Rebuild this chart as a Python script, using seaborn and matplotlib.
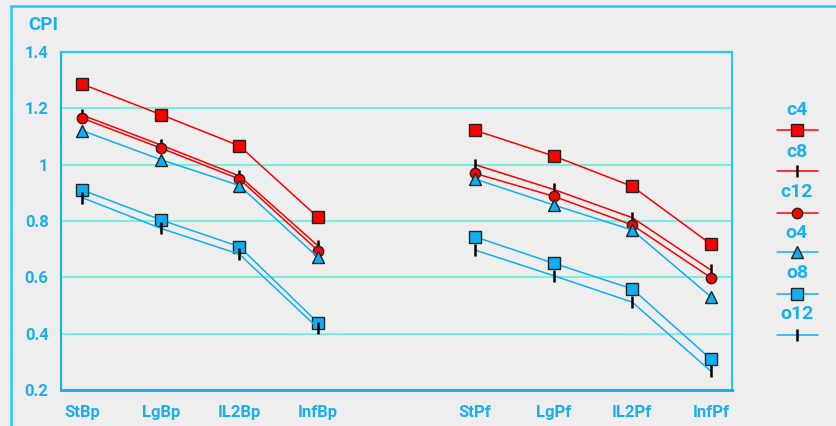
import pandas as pd
import seaborn as sns
import matplotlib.pyplot as plt
from matplotlib.lines import Line2D
from matplotlib.patches import Rectangle
from matplotlib.ticker import AutoMinorLocator

# categories along x (one empty slot between the two groups)
categories = ["StBp", "LgBp", "IL2Bp", "InfBp", "", "StPf", "LgPf", "IL2Pf", "InfPf"]
bp_cats = ["StBp", "LgBp", "IL2Bp", "InfBp"]
pf_cats = ["StPf", "LgPf", "IL2Pf", "InfPf"]

# CPI values: 4 Bp values then 4 Pf values
c4 = [1.286, 1.178, 1.067, 0.813, 1.122, 1.031, 0.923, 0.718]
c8 = [1.176, 1.070, 0.960, 0.712, 1.000, 0.912, 0.812, 0.626]
c12 = [1.165, 1.059, 0.949, 0.695, 0.969, 0.888, 0.786, 0.599]
o4 = [1.121, 1.018, 0.926, 0.671, 0.949, 0.857, 0.768, 0.531]
o8 = [0.910, 0.804, 0.709, 0.439, 0.744, 0.650, 0.559, 0.310]
o12 = [0.883, 0.774, 0.682, 0.420, 0.697, 0.606, 0.512, 0.267]

series_names = ["c4", "c8", "c12", "o4", "o8", "o12"]
series_vals = [c4, c8, c12, o4, o8, o12]

RED = "#ff0000"
BLUE = "#0cb0f2"
TXT = "#1ab0f0"
CYAN = "#20c8ff"
GRID = "#5ef0dc"
BG = "#eeeeee"

styles = {
    "c4": dict(color=RED, marker="s", ms=8.5, mec="#222222", mew=1.0),
    "c8": dict(color=RED, marker="|", ms=8, mec="black", mew=1.8),
    "c12": dict(color=RED, marker="o", ms=7.5, mec="#222222", mew=1.0),
    "o4": dict(color=BLUE, marker="^", ms=8, mec="#222222", mew=1.0),
    "o8": dict(color=BLUE, marker="s", ms=8.5, mec="#222222", mew=1.0),
    "o12": dict(color=BLUE, marker="|", ms=8, mec="black", mew=1.8),
}

# long-form table
rows = []
for name, vals in zip(series_names, series_vals):
    for cat, v in zip(bp_cats + pf_cats, vals):
        rows.append({"series": name, "cat": cat, "pos": categories.index(cat),
                     "group": "Bp" if cat in bp_cats else "Pf", "cpi": v})
df = pd.DataFrame(rows)

sns.set_style("white")
plt.rcParams["font.family"] = ["Roboto", "DejaVu Sans"]
plt.rcParams["font.weight"] = "bold"

fig = plt.figure(figsize=(8.36, 4.26), dpi=100, facecolor=BG)
ax = fig.add_axes([61 / 836, 1 - 390 / 426, 671 / 836, 338 / 426])
ax.set_facecolor(BG)

for name in series_names:
    st = styles[name]
    sns.lineplot(data=df[df["series"] == name], x="pos", y="cpi", units="group",
                 estimator=None, color=st["color"], lw=1.1, marker=st["marker"],
                 markersize=st["ms"], markeredgecolor=st["mec"],
                 markerfacecolor=st["color"], markeredgewidth=st["mew"],
                 legend=False, ax=ax, zorder=3)

ax.set_xlim(-0.27, 8.27)
ax.set_ylim(0.2, 1.4)
ax.set_xticks(range(len(categories)))
ax.set_xticklabels(categories)
ax.set_yticks([0.2, 0.4, 0.6, 0.8, 1.0, 1.2, 1.4])
ax.set_yticklabels(["0.2", "0.4", "0.6", "0.8", "1", "1.2", "1.4"])
ax.yaxis.set_minor_locator(AutoMinorLocator(2))
ax.set_xlabel("")
ax.set_ylabel("")

for y in [0.4, 0.6, 0.8, 1.0, 1.2]:
    ax.axhline(y, color=GRID, lw=1.2, zorder=1)

ax.tick_params(axis="y", which="major", direction="in", length=9, width=1.5,
               color="black", labelcolor=TXT, labelsize=12, pad=9)
ax.tick_params(axis="y", which="minor", direction="out", length=5, width=1,
               color=TXT)
ax.tick_params(axis="x", which="major", direction="out", length=7, width=1.5,
               color=TXT, labelcolor=TXT, labelsize=12, pad=4)
for lab in ax.get_xticklabels() + ax.get_yticklabels():
    lab.set_fontweight("bold")

ax.spines["left"].set_color(TXT)
ax.spines["left"].set_linewidth(1.5)
ax.spines["bottom"].set_color(TXT)
ax.spines["bottom"].set_linewidth(2.2)
ax.spines["top"].set_color(CYAN)
ax.spines["top"].set_linewidth(1.5)
ax.spines["right"].set_color(CYAN)
ax.spines["right"].set_linewidth(1.5)

# outer frame
fig.add_artist(Rectangle((11 / 836, -0.1), 1.2, 1.1 - 6 / 426, fill=False,
                         edgecolor=CYAN, lw=1.8, transform=fig.transFigure))

fig.text(28 / 836, 1 - 25 / 426, "CPI", color=TXT, fontsize=13.5,
         fontweight="bold", va="center", ha="left")

# legend: label above a short line sample
label_y = [110, 151.5, 192, 233, 273, 314]
line_y = [130.5, 171, 212.5, 252.5, 293.5, 334.5]
for name, ty, ly in zip(series_names, label_y, line_y):
    st = styles[name]
    fig.text(797 / 836, 1 - ty / 426, name, color=TXT, fontsize=14,
             fontweight="bold", ha="center", va="center")
    fig.add_artist(Line2D([777 / 836, 818 / 836], [1 - ly / 426] * 2,
                          color=st["color"], lw=1.1, transform=fig.transFigure))
    fig.add_artist(Line2D([797 / 836], [1 - ly / 426], marker=st["marker"],
                          markersize=st["ms"], markerfacecolor=st["color"],
                          markeredgecolor=st["mec"], markeredgewidth=st["mew"],
                          transform=fig.transFigure))

fig.savefig("out.png", dpi=100, facecolor=BG)
